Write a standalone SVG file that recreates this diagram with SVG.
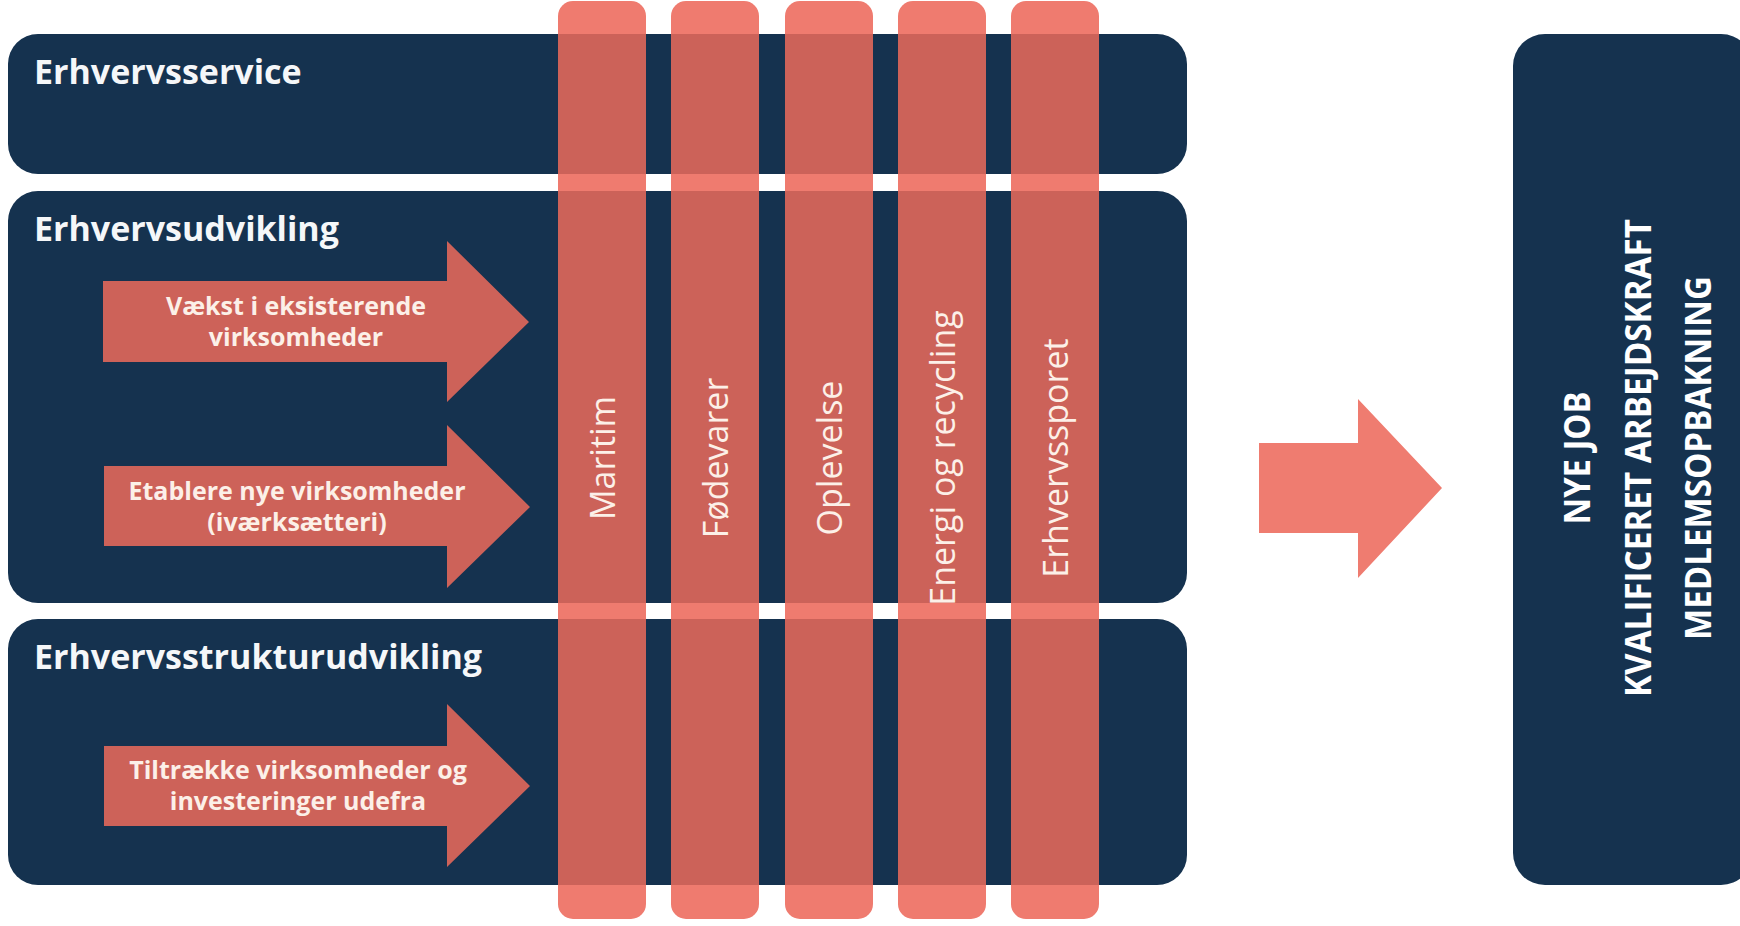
<svg xmlns="http://www.w3.org/2000/svg" width="1740" height="926" viewBox="0 0 1740 926">
  <style>
    .box { fill: #15324f; }
    .col-light { fill: #ef7b6f; }
    .col-dark { fill: #cc6259; }
    .arrow-in { fill: #cd6259; }
    .arrow-big { fill: #ef7c70; }
    .title { font-family: "Open Sans", "Liberation Sans", sans-serif; font-weight: 700; font-size: 34px; fill: #f5f7f9; }
    .atext { font-family: "Open Sans", "Liberation Sans", sans-serif; font-weight: 700; font-size: 25px; fill: #fcf0e8; text-anchor: middle; }
    .ctext { font-family: "Open Sans", "Liberation Sans", sans-serif; font-weight: 400; font-size: 34px; fill: #fcf0e8; text-anchor: middle; }
    .rtext { font-family: "Open Sans", "Liberation Sans", sans-serif; font-weight: 700; font-size: 36px; fill: #ffffff; text-anchor: middle; }
  </style>
  <rect width="1740" height="926" fill="#ffffff"/>

  <g id="erhvervsservice">
    <rect class="box" x="8" y="34" width="1179" height="140" rx="30"/>
    <text class="title" x="34" y="84">Erhvervsservice</text>
  </g>

  <g id="erhvervsudvikling">
    <rect class="box" x="8" y="191" width="1179" height="412" rx="30"/>
    <text class="title" x="34" y="241">Erhvervsudvikling</text>
  </g>

  <g id="erhvervsstrukturudvikling">
    <rect class="box" x="8" y="619" width="1179" height="266" rx="30"/>
    <text class="title" x="34" y="669">Erhvervsstrukturudvikling</text>
  </g>

  <g id="vaekst">
    <polygon class="arrow-in" points="103,281 447,281 447,241 529,322 447,402 447,362 103,362"/>
    <text class="atext" x="296" y="315">Vækst i eksisterende</text>
    <text class="atext" x="296" y="346">virksomheder</text>
  </g>

  <g id="etablere">
    <polygon class="arrow-in" points="104,466 447,466 447,425 530,507 447,588 447,546 104,546"/>
    <text class="atext" x="297" y="500">Etablere nye virksomheder</text>
    <text class="atext" x="297" y="531">(iværksætteri)</text>
  </g>

  <g id="tiltraekke">
    <polygon class="arrow-in" points="104,746 447,746 447,704 530,786 447,867 447,826 104,826"/>
    <text class="atext" x="298" y="779">Tiltrække virksomheder og</text>
    <text class="atext" x="298" y="810">investeringer udefra</text>
  </g>

  <g id="maritim">
    <rect class="col-light" x="558" y="1" width="88" height="918" rx="15"/>
    <rect class="col-dark" x="558" y="34" width="88" height="140"/>
    <rect class="col-dark" x="558" y="191" width="88" height="412"/>
    <rect class="col-dark" x="558" y="619" width="88" height="266"/>
    <text class="ctext" transform="translate(614.5,458) rotate(-90)">Maritim</text>
  </g>

  <g id="foedevarer">
    <rect class="col-light" x="671" y="1" width="88" height="918" rx="15"/>
    <rect class="col-dark" x="671" y="34" width="88" height="140"/>
    <rect class="col-dark" x="671" y="191" width="88" height="412"/>
    <rect class="col-dark" x="671" y="619" width="88" height="266"/>
    <text class="ctext" transform="translate(727.5,458) rotate(-90)">Fødevarer</text>
  </g>

  <g id="oplevelse">
    <rect class="col-light" x="785" y="1" width="88" height="918" rx="15"/>
    <rect class="col-dark" x="785" y="34" width="88" height="140"/>
    <rect class="col-dark" x="785" y="191" width="88" height="412"/>
    <rect class="col-dark" x="785" y="619" width="88" height="266"/>
    <text class="ctext" transform="translate(841.5,458) rotate(-90)">Oplevelse</text>
  </g>

  <g id="energi">
    <rect class="col-light" x="898" y="1" width="88" height="918" rx="15"/>
    <rect class="col-dark" x="898" y="34" width="88" height="140"/>
    <rect class="col-dark" x="898" y="191" width="88" height="412"/>
    <rect class="col-dark" x="898" y="619" width="88" height="266"/>
    <text class="ctext" transform="translate(954.5,458) rotate(-90)">Energi og recycling</text>
  </g>

  <g id="erhvervssporet">
    <rect class="col-light" x="1011" y="1" width="88" height="918" rx="15"/>
    <rect class="col-dark" x="1011" y="34" width="88" height="140"/>
    <rect class="col-dark" x="1011" y="191" width="88" height="412"/>
    <rect class="col-dark" x="1011" y="619" width="88" height="266"/>
    <text class="ctext" transform="translate(1067.5,458) rotate(-90)">Erhvervssporet</text>
  </g>

  <g id="connectors">
    <polygon class="arrow-big" points="1259,443 1358,443 1358,399 1442,488 1358,578 1358,533 1259,533"/>
  </g>

  <g id="resultater">
    <rect class="box" x="1513" y="34" width="240" height="851" rx="32"/>
    <text class="rtext" transform="translate(1590,458) rotate(-90)" textLength="133" lengthAdjust="spacingAndGlyphs">NYE JOB</text>
    <text class="rtext" transform="translate(1651,458) rotate(-90)" textLength="478" lengthAdjust="spacingAndGlyphs">KVALIFICERET ARBEJDSKRAFT</text>
    <text class="rtext" transform="translate(1711,458) rotate(-90)" textLength="364" lengthAdjust="spacingAndGlyphs">MEDLEMSOPBAKNING</text>
  </g>
</svg>
